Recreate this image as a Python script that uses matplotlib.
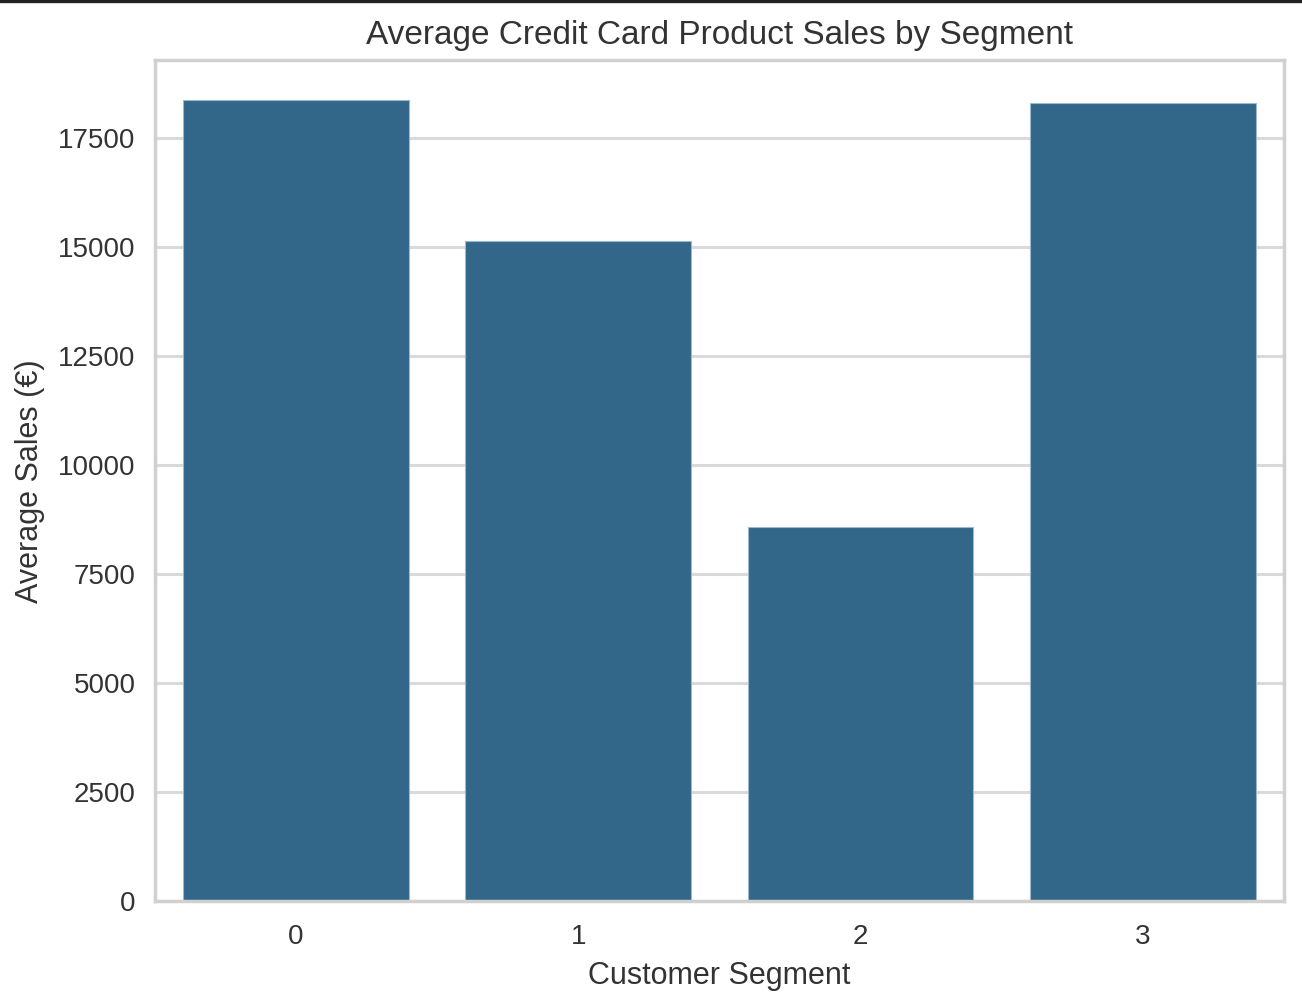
import matplotlib
matplotlib.use("Agg")
import matplotlib.pyplot as plt
import seaborn as sns
from matplotlib.lines import Line2D

segments = ["0", "1", "2", "3"]
avg_sales = [18370, 15140, 8580, 18310]

sns.set_theme(style="whitegrid")
plt.rcParams['font.family'] = ['Liberation Sans', 'DejaVu Sans']

fig, ax = plt.subplots(figsize=(6.51, 5.03), dpi=200)
sns.barplot(x=segments, y=avg_sales, color="#32678a", saturation=1,
            edgecolor="#9bb8cc", linewidth=0.4, ax=ax)

ax.set_title("Average Credit Card Product Sales by Segment", fontsize=12, color="#333333")
ax.set_xlabel("Customer Segment", fontsize=11, color="#333333", labelpad=4)
ax.set_ylabel("Average Sales (€)", fontsize=11, color="#333333", labelpad=4.5)
ax.tick_params(axis="y", labelsize=10, colors="#333333", pad=1)
ax.tick_params(axis="x", labelsize=10, colors="#333333", pad=2)
ax.set_ylim(0, max(avg_sales) * 1.05)
ax.grid(axis="y", color="#dadada", lw=1.1)
for s in ax.spines.values():
    s.set_color("#d0d0d0")

fig.subplots_adjust(left=0.119, right=0.986, top=0.940, bottom=0.104)
fig.add_artist(Line2D([0, 1], [0.999, 0.999], transform=fig.transFigure, color="#222222", lw=1.2))
fig.savefig("out.png", dpi=200)
